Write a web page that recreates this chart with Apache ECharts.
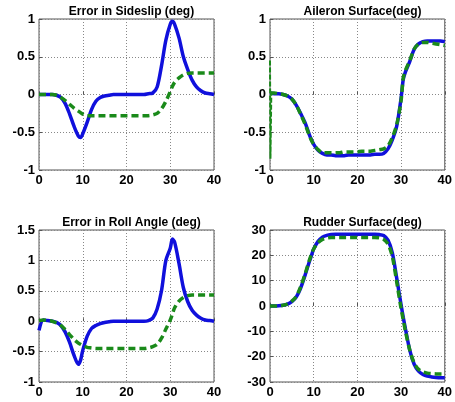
<html style="height: 100%">

<head>
    <meta charset="utf-8">
</head>

<body style="height: 100%; margin: 0; background: #fff">
    <div id="container" style="width: 455px; height: 402px"></div>

    <script type="text/javascript" src="https://cdn.jsdelivr.net/npm/echarts@6/dist/echarts.min.js"></script>

    <script type="text/javascript">
        // time samples (s), shared by every curve
        var t = [0, 1, 2, 3, 4, 5, 6, 7, 8, 9, 9.5,
            10, 11, 12, 13, 14, 15, 16, 17, 18, 19, 20, 21, 22, 23, 24, 25, 26, 27, 28, 29, 30, 30.5,
            31, 32, 33, 34, 35, 36, 37, 38, 39, 40];

        var titles = ['Error in Sideslip (deg)', 'Aileron Surface(deg)', 'Error in Roll Angle (deg)', 'Rudder Surface(deg)'];

        var sideslipBlue = [0, 0, 0, 0, -0.01, -0.04, -0.12, -0.26, -0.42, -0.55, -0.57,
            -0.52, -0.37, -0.2, -0.09, -0.04, -0.02, -0.01, 0, 0, 0, 0, 0, 0, 0, 0, 0.01, 0.02, 0.1, 0.38, 0.72, 0.93, 0.97,
            0.93, 0.75, 0.5, 0.33, 0.19, 0.1, 0.05, 0.02, 0.01, 0];
        var sideslipGreen = [0, 0, 0, 0, -0.01, -0.04, -0.08, -0.13, -0.18, -0.22, -0.24,
            -0.26, -0.28, -0.28, -0.28, -0.28, -0.28, -0.28, -0.28, -0.28, -0.28, -0.28, -0.28, -0.28, -0.28, -0.28, -0.28, -0.27, -0.25, -0.19, -0.09, 0.04, 0.11,
            0.16, 0.22, 0.26, 0.28, 0.285, 0.285, 0.285, 0.285, 0.285, 0.285];

        var aileronBlue = [0.02, 0.01, 0.01, 0, -0.02, -0.06, -0.14, -0.25, -0.37, -0.53, -0.6,
            -0.66, -0.74, -0.78, -0.8, -0.8, -0.81, -0.81, -0.81, -0.8, -0.8, -0.8, -0.8, -0.8, -0.8, -0.79, -0.79, -0.78, -0.72, -0.6, -0.42, -0.05, 0.2,
            0.3, 0.44, 0.6, 0.67, 0.7, 0.71, 0.71, 0.71, 0.71, 0.7];
        var aileronGreen = [0.02, 0.02, 0.01, 0, -0.02, -0.06, -0.14, -0.26, -0.39, -0.54, -0.61,
            -0.66, -0.73, -0.77, -0.77, -0.77, -0.77, -0.77, -0.76, -0.76, -0.76, -0.76, -0.75, -0.75, -0.75, -0.74, -0.73, -0.72, -0.68, -0.57, -0.4, -0.08, 0.22,
            0.32, 0.45, 0.6, 0.67, 0.69, 0.69, 0.68, 0.67, 0.66, 0.65];
        // initial transient of the green aileron command
        var spikeT = [0, 0.1, 0.3];
        var spikeV = [0.45, -0.85, 0.02];

        var rollBlue = [-0.15, 0.02, 0.01, 0, -0.02, -0.07, -0.18, -0.35, -0.56, -0.71, -0.64,
            -0.48, -0.25, -0.12, -0.07, -0.04, -0.02, -0.01, 0, 0, 0, 0, 0, 0, 0, 0, 0.01, 0.05, 0.2, 0.5, 1.0, 1.2, 1.35,
            1.3, 0.95, 0.55, 0.32, 0.18, 0.1, 0.05, 0.02, 0.01, 0];
        var rollGreen = [0.01, 0.02, 0.01, 0, -0.03, -0.07, -0.14, -0.22, -0.3, -0.36, -0.38,
            -0.4, -0.43, -0.44, -0.45, -0.45, -0.45, -0.45, -0.45, -0.45, -0.45, -0.45, -0.45, -0.45, -0.45, -0.45, -0.44, -0.42, -0.38, -0.28, -0.13, 0.02, 0.12,
            0.22, 0.33, 0.39, 0.42, 0.43, 0.43, 0.43, 0.43, 0.43, 0.43];

        var rudderBlue = [0, 0, 0.1, 0.3, 0.7, 1.7, 3.5, 7, 12, 17.5, 20,
            22.5, 25.5, 27.2, 27.9, 28.2, 28.3, 28.3, 28.3, 28.3, 28.3, 28.3, 28.3, 28.3, 28.3, 28.3, 28.2, 27.8, 26, 21, 11, 0.5, -4.5,
            -9, -17.5, -23, -25.7, -27, -27.7, -28, -28.2, -28.3, -28.3];
        var rudderGreen = [0, 0, 0.1, 0.3, 0.8, 1.9, 3.8, 7.5, 12.5, 18, 20.5,
            22.5, 25, 26.3, 26.8, 27, 27, 27, 27, 27, 27, 27, 27, 27, 27, 27, 26.9, 26.3, 24.5, 19.5, 9.5, -1, -5.5,
            -10, -17.5, -22.5, -25, -26, -26.5, -26.7, -26.8, -26.8, -26.8];

        var yMin = [-1, -1, -1, -30];
        var yMax = [1, 1, 1.5, 30];
        var yStep = [0.5, 0.5, 0.5, 10];

        var blueColor = '#1010dc';
        var greenColor = '#1a8a1a';

        function pairs(xs, ys) {
            return xs.map(function (x, i) { return [x, ys[i]]; });
        }

        var chartDom = document.getElementById('container');
        var myChart = echarts.init(chartDom, null, { renderer: 'canvas' });

        var boxes = [
            { left: 39, top: 19, width: 175, height: 151 },
            { left: 270, top: 19, width: 175, height: 151 },
            { left: 39, top: 230, width: 175, height: 152 },
            { left: 270, top: 230, width: 175, height: 152 }
        ];
        var titleTop = [1, 1, 212, 212];

        var grid = [], xAxis = [], yAxis = [], title = [];
        boxes.forEach(function (b, i) {
            grid.push({
                left: b.left, top: b.top, width: b.width, height: b.height,
                show: true, borderColor: '#555', borderWidth: 1, backgroundColor: '#fff'
            });
            title.push({
                text: titles[i],
                left: b.left + b.width / 2,
                top: titleTop[i],
                textAlign: 'center',
                textStyle: { fontFamily: 'Liberation Sans', fontSize: 12, fontWeight: 'bold', color: '#000' }
            });
            var common = {
                gridIndex: i,
                axisLine: { show: false },
                axisTick: { show: true, inside: true, length: 3, lineStyle: { color: '#555' } },
                splitLine: { show: true, lineStyle: { color: '#888', type: [1, 2], width: 1 } },
                axisLabel: { fontFamily: 'Liberation Sans', fontSize: 13, fontWeight: 'bold', color: '#000', margin: 4 }
            };
            xAxis.push(Object.assign({ type: 'value', min: 0, max: 40, interval: 10 }, common));
            yAxis.push(Object.assign({ type: 'value', min: yMin[i], max: yMax[i], interval: yStep[i] }, common));
        });

        function blue(i, ys) {
            return {
                type: 'line', xAxisIndex: i, yAxisIndex: i, data: pairs(t, ys),
                smooth: 0.3, showSymbol: false, z: 3,
                lineStyle: { color: blueColor, width: 3.5 }
            };
        }
        function green(i, ys) {
            return {
                type: 'line', xAxisIndex: i, yAxisIndex: i, data: pairs(t, ys),
                smooth: 0.3, showSymbol: false, z: 4,
                lineStyle: { color: greenColor, width: 3.5, type: [7, 4] }
            };
        }

        var series = [
            blue(0, sideslipBlue), green(0, sideslipGreen),
            blue(1, aileronBlue), green(1, aileronGreen),
            {
                type: 'line', xAxisIndex: 1, yAxisIndex: 1, data: pairs(spikeT, spikeV),
                showSymbol: false, z: 4, clip: false,
                lineStyle: { color: greenColor, width: 2, type: [5, 2] }
            },
            blue(2, rollBlue), green(2, rollGreen),
            blue(3, rudderBlue), green(3, rudderGreen)
        ];

        var option = {
            backgroundColor: '#fff',
            animation: false,
            title: title,
            grid: grid,
            xAxis: xAxis,
            yAxis: yAxis,
            series: series
        };

        option && myChart.setOption(option);
    </script>
</body>

</html>
